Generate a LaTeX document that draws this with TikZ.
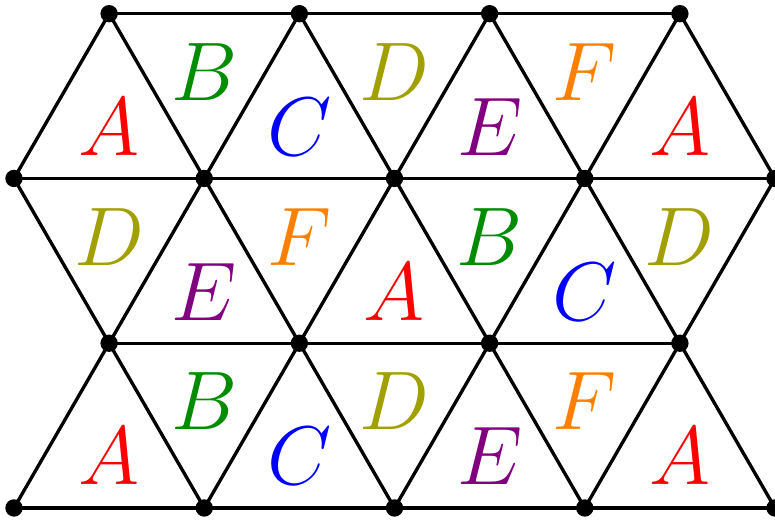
\documentclass[tikz,border=0pt]{standalone}
\definecolor{cA}{RGB}{255,0,0}
\definecolor{cB}{RGB}{0,140,0}
\definecolor{cC}{RGB}{0,0,255}
\definecolor{cD}{RGB}{160,160,0}
\definecolor{cE}{RGB}{128,0,128}
\definecolor{cF}{RGB}{255,128,0}
\begin{document}
\begin{tikzpicture}[x=2cm,y=2cm,
  edge/.style={line width=1pt},
  vtx/.style={circle,fill=black,inner sep=0pt,minimum size=5.2pt},
  lab/.style={font=\Huge,inner sep=0pt,yshift=-1pt}]
\pgfmathsetmacro{\h}{0.8660254}
\useasboundingbox (-0.0736,-0.058) rectangle (4,2.67);
% vertices
\foreach \r in {0,2}{
  \foreach \i in {0,...,4}{
    \coordinate (v\r\i) at (\i,\r*\h);
  }
}
\foreach \r in {1,3}{
  \foreach \i in {0,...,3}{
    \coordinate (v\r\i) at (\i+0.5,\r*\h);
  }
}
% horizontal edges
\draw[edge] (v00) -- (v04);
\draw[edge] (v10) -- (v13);
\draw[edge] (v20) -- (v24);
\draw[edge] (v30) -- (v33);
% diagonal edges
\foreach \j [evaluate=\j as \k using int(\j+1)] in {0,...,3}{
  \draw[edge] (v0\j) -- (v1\j) -- (v0\k);
  \draw[edge] (v2\j) -- (v1\j) -- (v2\k);
  \draw[edge] (v2\j) -- (v3\j) -- (v2\k);
}
% dots
\foreach \r in {0,2}{
  \foreach \i in {0,...,4}{
    \node[vtx] (d\r\i) at (v\r\i) {};
  }
}
\foreach \r in {1,3}{
  \foreach \i in {0,...,3}{
    \node[vtx] (d\r\i) at (v\r\i) {};
  }
}
% labels: bottom strip
\node[lab,text=cA] (b1) at (0.5,\h/3) {$A$};
\node[lab,text=cB] (b2) at (1,2*\h/3) {$B$};
\node[lab,text=cC] (b3) at (1.5,\h/3) {$C$};
\node[lab,text=cD] (b4) at (2,2*\h/3) {$D$};
\node[lab,text=cE] (b5) at (2.5,\h/3) {$E$};
\node[lab,text=cF] (b6) at (3,2*\h/3) {$F$};
\node[lab,text=cA] (b7) at (3.5,\h/3) {$A$};
% middle strip
\node[lab,text=cD] (m1) at (0.5,\h+2*\h/3) {$D$};
\node[lab,text=cE] (m2) at (1,\h+\h/3) {$E$};
\node[lab,text=cF] (m3) at (1.5,\h+2*\h/3) {$F$};
\node[lab,text=cA] (m4) at (2,\h+\h/3) {$A$};
\node[lab,text=cB] (m5) at (2.5,\h+2*\h/3) {$B$};
\node[lab,text=cC] (m6) at (3,\h+\h/3) {$C$};
\node[lab,text=cD] (m7) at (3.5,\h+2*\h/3) {$D$};
% top strip
\node[lab,text=cA] (t1) at (0.5,2*\h+\h/3) {$A$};
\node[lab,text=cB] (t2) at (1,2*\h+2*\h/3) {$B$};
\node[lab,text=cC] (t3) at (1.5,2*\h+\h/3) {$C$};
\node[lab,text=cD] (t4) at (2,2*\h+2*\h/3) {$D$};
\node[lab,text=cE] (t5) at (2.5,2*\h+\h/3) {$E$};
\node[lab,text=cF] (t6) at (3,2*\h+2*\h/3) {$F$};
\node[lab,text=cA] (t7) at (3.5,2*\h+\h/3) {$A$};
\end{tikzpicture}
\end{document}
